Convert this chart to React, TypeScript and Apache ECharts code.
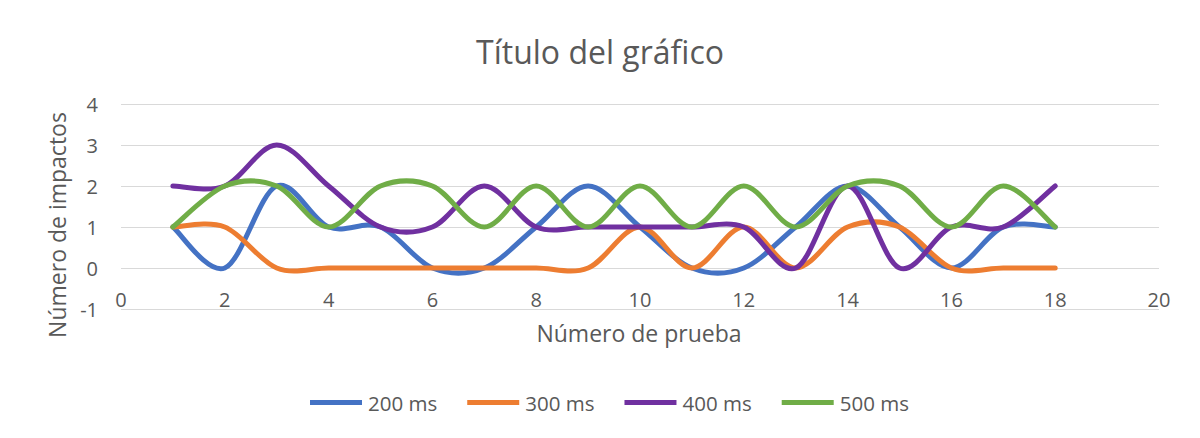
import React, { useEffect, useRef } from "react";
import * as echarts from "echarts";

const xValues = [1, 2, 3, 4, 5, 6, 7, 8, 9, 10, 11, 12, 13, 14, 15, 16, 17, 18];
const s200 = [1, 0, 2, 1, 1, 0, 0, 1, 2, 1, 0, 0, 1, 2, 1, 0, 1, 1];
const s300 = [1, 1, 0, 0, 0, 0, 0, 0, 0, 1, 0, 1, 0, 1, 1, 0, 0, 0];
const s400 = [2, 2, 3, 2, 1, 1, 2, 1, 1, 1, 1, 1, 0, 2, 0, 1, 1, 2];
const s500 = [1, 2, 2, 1, 2, 2, 1, 2, 1, 2, 1, 2, 1, 2, 2, 1, 2, 1];
const seriesNames = ["200 ms", "300 ms", "400 ms", "500 ms"];
const seriesColors = ["#4472C4", "#ED7D31", "#7030A0", "#70AD47"];
const seriesData = [s200, s300, s400, s500];

const FONT = "'Open Sans'";
const TEXT = "#595959";

// Excel-like smoothed line (Catmull-Rom style Bezier), points mapped through the axes
function makeRenderItem(values: number[], color: string) {
  return (params: any, api: any) => {
    if (params.dataIndex !== 0) return null;
    const pts = xValues.map((x, j) => api.coord([x, values[j]]) as number[]);
    const n = pts.length;
    let d = `M${pts[0][0]},${pts[0][1]}`;
    for (let i = 0; i < n - 1; i++) {
      const p0 = pts[Math.max(i - 1, 0)];
      const p1 = pts[i];
      const p2 = pts[i + 1];
      const p3 = pts[Math.min(i + 2, n - 1)];
      const c1x = p1[0] + (p2[0] - p0[0]) / 6;
      const c1y = p1[1] + (p2[1] - p0[1]) / 6;
      const c2x = p2[0] - (p3[0] - p1[0]) / 6;
      const c2y = p2[1] - (p3[1] - p1[1]) / 6;
      d += ` C${c1x},${c1y} ${c2x},${c2y} ${p2[0]},${p2[1]}`;
    }
    return {
      type: "path",
      shape: { pathData: d },
      style: { fill: "none", stroke: color, lineWidth: 5, lineCap: "round", lineJoin: "round" },
    };
  };
}

export default function App() {
  const ref = useRef<HTMLDivElement>(null);
  useEffect(() => {
    const chart = echarts.init(ref.current!, undefined, { renderer: "svg" });
    chart.setOption({
      animation: false,
      backgroundColor: "#ffffff",
      title: {
        text: "Título del gráfico",
        left: "center",
        top: 30,
        textStyle: { fontFamily: FONT, fontSize: 32, fontWeight: "normal", color: TEXT },
      },
      legend: {
        top: 392,
        left: 310,
        padding: 0,
        icon: "rect",
        itemWidth: 52,
        itemHeight: 5,
        itemGap: 30,
        textStyle: { fontFamily: FONT, fontSize: 20.5, color: TEXT, padding: [0, 0, 0, 1] },
        data: seriesNames,
      },
      graphic: [
        {
          type: "rect",
          shape: { x: 5.5, y: 5.5, width: 1193.5, height: 440 },
          style: { fill: "none", stroke: "#d9d9d9", lineWidth: 1 },
          silent: true,
        },
        {
          type: "text",
          x: 639,
          y: 333,
          style: {
            text: "Número de prueba",
            fontFamily: FONT,
            fontSize: 23,
            fill: TEXT,
            textAlign: "center",
            textVerticalAlign: "middle",
          },
          silent: true,
        },
        {
          type: "text",
          x: 57,
          y: 225,
          rotation: Math.PI / 2,
          style: {
            text: "Número de impactos",
            fontFamily: FONT,
            fontSize: 23,
            fill: TEXT,
            textAlign: "center",
            textVerticalAlign: "middle",
          },
          silent: true,
        },
      ],
      grid: { left: 121, right: 41, top: 104, bottom: 129 },
      xAxis: {
        type: "value",
        min: 0,
        max: 20,
        interval: 2,
        axisLine: { show: false, onZero: false },
        axisTick: { show: false },
        splitLine: { show: false },
        axisLabel: { fontFamily: FONT, fontSize: 20, color: TEXT, margin: -20 },
      },
      yAxis: {
        type: "value",
        min: -1,
        max: 4,
        interval: 1,
        axisLine: { show: false },
        axisTick: { show: false },
        splitLine: { lineStyle: { color: "#d9d9d9", width: 1 } },
        axisLabel: { fontFamily: FONT, fontSize: 20, color: TEXT, margin: 23 },
      },
      series: seriesNames.map((name, i) => ({
        name,
        type: "custom",
        renderItem: makeRenderItem(seriesData[i], seriesColors[i]),
        encode: { x: 0, y: 1 },
        data: xValues.map((x, j) => [x, seriesData[i][j]]),
        itemStyle: { color: seriesColors[i] },
      })),
    });
    return () => chart.dispose();
  }, []);
  return <div ref={ref} style={{ width: 1200, height: 438, margin: -8 }} />;
}
